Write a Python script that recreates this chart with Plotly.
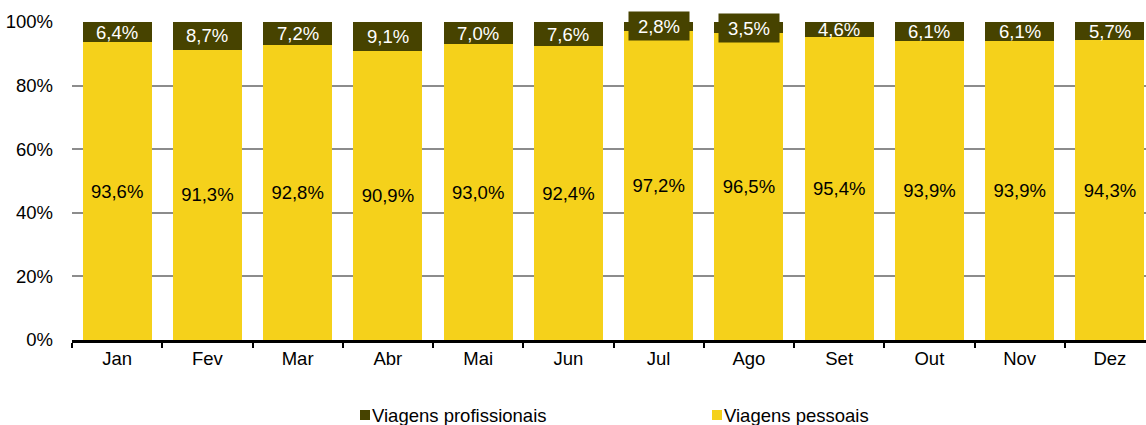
import plotly.graph_objects as go

meses = ["Jan", "Fev", "Mar", "Abr", "Mai", "Jun", "Jul", "Ago", "Set", "Out", "Nov", "Dez"]
pessoais = [93.6, 91.3, 92.8, 90.9, 93.0, 92.4, 97.2, 96.5, 95.4, 93.9, 93.9, 94.3]
profissionais = [6.4, 8.7, 7.2, 9.1, 7.0, 7.6, 2.8, 3.5, 4.6, 6.1, 6.1, 5.7]

AMARELO = "#F5D11B"
OLIVA = "#474300"
FONTE = "Liberation Sans, Arial, sans-serif"
TAM = 18.5


def pct(v):
    return f"{v:.1f}%".replace(".", ",")


fig = go.Figure()
fig.add_trace(go.Bar(
    x=meses, y=pessoais, name="Viagens pessoais",
    marker=dict(color=AMARELO, line=dict(width=0)),
    text=[pct(v) for v in pessoais], textposition="inside",
    insidetextanchor="middle", textangle=0,
    textfont=dict(color="black", size=TAM, family=FONTE),
    showlegend=False,
))
fig.add_trace(go.Bar(
    x=meses, y=profissionais, name="Viagens profissionais",
    marker=dict(color=OLIVA, line=dict(width=0)),
    showlegend=False,
))

# Labels of the top segment; thin segments get a boxed label
for m, base, v in zip(meses, pessoais, profissionais):
    boxed = v < 4
    fig.add_annotation(
        x=m, y=base + v / 2, xref="x", yref="y",
        text=pct(v), showarrow=False,
        font=dict(color="white", size=TAM, family=FONTE),
        bgcolor=OLIVA if boxed else None,
        width=54 if boxed else None, height=22 if boxed else None,
        borderpad=3,
    )

# Legend drawn below the axis
legenda = [("Viagens profissionais", OLIVA, 360), ("Viagens pessoais", AMARELO, 712)]
W, H = 1146, 425
PW, PH = W - 72, 318
for nome, cor, px in legenda:
    fig.add_shape(
        type="rect", xref="paper", yref="paper",
        x0=(px - 72) / PW, x1=(px + 10 - 72) / PW,
        y0=-(420 - 340) / PH, y1=-(410 - 340) / PH,
        fillcolor=cor, line=dict(width=0),
    )
    fig.add_annotation(
        xref="paper", yref="paper", x=(px + 10 - 72) / PW, y=-(415 - 340) / PH,
        xanchor="left", yanchor="middle", text=nome, showarrow=False,
        font=dict(color="black", size=TAM, family=FONTE),
    )

fig.update_layout(
    width=W, height=H,
    margin=dict(l=72, r=0, t=22, b=85),
    paper_bgcolor="white", plot_bgcolor="white",
    barmode="stack", bargap=0.236,
    font=dict(family=FONTE, size=TAM, color="black"),
    xaxis=dict(
        range=[-0.5, 11.4], showgrid=False, showline=True, linecolor="black",
        linewidth=3, ticks="outside", tickson="boundaries", ticklen=5,
        tickwidth=2, tickcolor="black", tickfont=dict(size=TAM), fixedrange=True,
    ),
    yaxis=dict(
        range=[0, 100], tickvals=[0, 20, 40, 60, 80, 100],
        ticktext=["0%", "20%", "40%", "60%", "80%", "100%"],
        showgrid=True, gridcolor="#8C8C8C", gridwidth=2, zeroline=False,
        showline=False, ticks="", ticklabelstandoff=18, tickfont=dict(size=TAM),
    ),
)

fig.write_html("out.html")
